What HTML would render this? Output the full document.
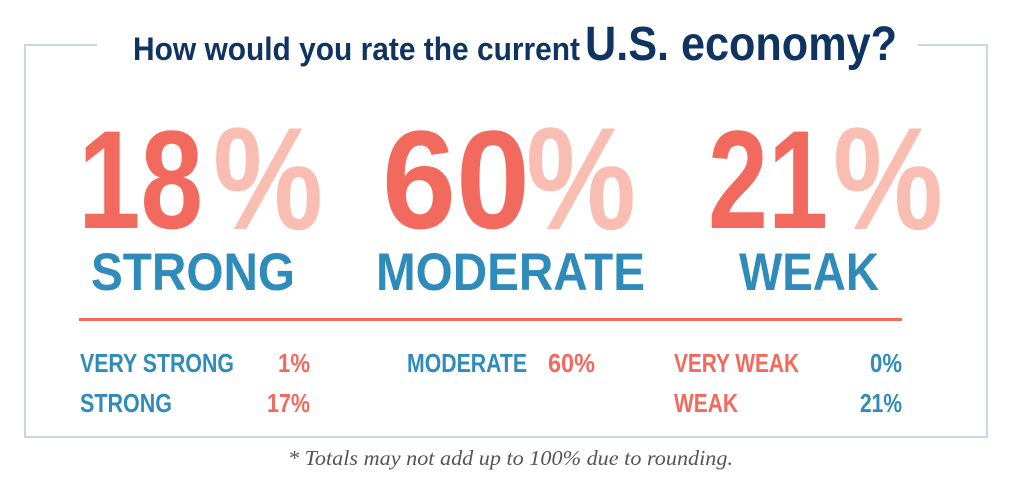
<!DOCTYPE html>
<html>
<head>
<meta charset="utf-8">
<style>
  html,body{margin:0;padding:0;background:#ffffff;}
  svg{display:block;}
  text{font-family:"Liberation Sans",sans-serif;}
</style>
</head>
<body>
<svg width="1024" height="495" viewBox="0 0 1024 495" xmlns="http://www.w3.org/2000/svg">
  <rect x="0" y="0" width="1024" height="495" fill="#ffffff"/>
  <!-- frame -->
  <polyline points="97,45 25,45 25,437 987,437 987,45 918,45" fill="none" stroke="#C8D7E8" stroke-width="2"/>

  <!-- title -->
  <text x="133" y="60" font-size="32" font-weight="bold" fill="#103461" textLength="447" lengthAdjust="spacingAndGlyphs">How would you rate the current</text>
  <text x="585" y="60" font-size="48" font-weight="bold" fill="#103461" textLength="312" lengthAdjust="spacingAndGlyphs">U.S. economy?</text>

  <!-- big numbers -->
  <text x="78" y="228" font-size="140" font-weight="bold" fill="#F26A5E" textLength="125" lengthAdjust="spacingAndGlyphs">18</text>
  <text x="213" y="229" font-size="146" font-weight="bold" fill="#F9BEB1" textLength="110" lengthAdjust="spacingAndGlyphs">%</text>

  <text x="382" y="228" font-size="140" font-weight="bold" fill="#F26A5E" textLength="148" lengthAdjust="spacingAndGlyphs">60</text>
  <text x="526" y="229" font-size="146" font-weight="bold" fill="#F9BEB1" textLength="110" lengthAdjust="spacingAndGlyphs">%</text>

  <text x="708" y="228" font-size="140" font-weight="bold" fill="#F26A5E" textLength="120" lengthAdjust="spacingAndGlyphs">21</text>
  <text x="833" y="229" font-size="146" font-weight="bold" fill="#F9BEB1" textLength="110" lengthAdjust="spacingAndGlyphs">%</text>

  <!-- category labels -->
  <text x="91" y="290" font-size="53" font-weight="bold" fill="#2E8BBA" textLength="204" lengthAdjust="spacingAndGlyphs">STRONG</text>
  <text x="376" y="290" font-size="53" font-weight="bold" fill="#2E8BBA" textLength="269" lengthAdjust="spacingAndGlyphs">MODERATE</text>
  <text x="739" y="290" font-size="53" font-weight="bold" fill="#2E8BBA" textLength="140" lengthAdjust="spacingAndGlyphs">WEAK</text>

  <!-- divider -->
  <rect x="79" y="318" width="823" height="3" fill="#F26A5E"/>

  <!-- breakdown -->
  <text x="80" y="372" font-size="26" font-weight="bold" fill="#2E8BBA" textLength="154" lengthAdjust="spacingAndGlyphs">VERY STRONG</text>
  <text x="278" y="372" font-size="26" font-weight="bold" fill="#F26A5E" textLength="32" lengthAdjust="spacingAndGlyphs">1%</text>
  <text x="80" y="412" font-size="26" font-weight="bold" fill="#2E8BBA" textLength="92" lengthAdjust="spacingAndGlyphs">STRONG</text>
  <text x="267" y="412" font-size="26" font-weight="bold" fill="#F26A5E" textLength="43" lengthAdjust="spacingAndGlyphs">17%</text>

  <text x="407" y="372" font-size="26" font-weight="bold" fill="#2E8BBA" textLength="120" lengthAdjust="spacingAndGlyphs">MODERATE</text>
  <text x="548" y="372" font-size="26" font-weight="bold" fill="#F26A5E" textLength="47" lengthAdjust="spacingAndGlyphs">60%</text>

  <text x="674" y="372" font-size="26" font-weight="bold" fill="#F26A5E" textLength="125" lengthAdjust="spacingAndGlyphs">VERY WEAK</text>
  <text x="870" y="372" font-size="26" font-weight="bold" fill="#2E8BBA" textLength="32" lengthAdjust="spacingAndGlyphs">0%</text>
  <text x="674" y="412" font-size="26" font-weight="bold" fill="#F26A5E" textLength="64" lengthAdjust="spacingAndGlyphs">WEAK</text>
  <text x="860" y="412" font-size="26" font-weight="bold" fill="#2E8BBA" textLength="42" lengthAdjust="spacingAndGlyphs">21%</text>

  <!-- footnote -->
  <text x="288" y="465" font-size="21" font-style="italic" fill="#555555" style="font-family:'Liberation Serif',serif" textLength="445" lengthAdjust="spacingAndGlyphs">* Totals may not add up to 100% due to rounding.</text>
</svg>
</body>
</html>
